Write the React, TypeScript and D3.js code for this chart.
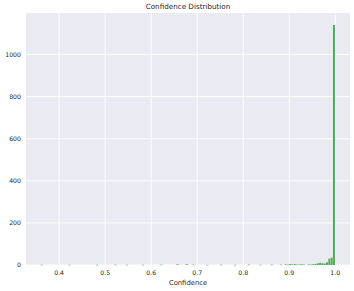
import React, { useEffect, useRef } from "react";
import * as d3 from "d3";

// histogram bins of width 0.005, only the non-empty ones
const binStarts: number[] = [
  0.36, 0.42, 0.48, 0.52, 0.545, 0.58, 0.62, 0.655, 0.675, 0.69, 0.72, 0.75,
  0.78, 0.81, 0.835, 0.86, 0.88, 0.89, 0.895, 0.9, 0.905, 0.91, 0.915, 0.92,
  0.925, 0.93, 0.94, 0.945, 0.95, 0.955, 0.96, 0.965, 0.97, 0.975, 0.98,
  0.985, 0.99, 0.995,
];
const binCounts: number[] = [
  1, 1, 1, 2, 1, 1, 2, 4, 4, 2, 1, 2,
  1, 2, 1, 2, 2, 3, 2, 5, 3, 4, 2, 3,
  4, 2, 3, 2, 4, 5, 8, 10, 8, 7, 13, 30, 35, 1140,
];
const binWidth = 0.005;
const xTicks: number[] = [0.4, 0.5, 0.6, 0.7, 0.8, 0.9, 1.0];
const yTicks: number[] = [0, 200, 400, 600, 800, 1000];

const W = 354;
const H = 291;

const App: React.FC = () => {
  const svgRef = useRef<SVGSVGElement>(null);

  useEffect(() => {
    const margin = { top: 13, right: 4, bottom: 26, left: 26 };
    const width = W - margin.left - margin.right;
    const height = H - margin.top - margin.bottom;

    const svg = d3.select(svgRef.current);
    svg.selectAll("*").remove();

    const data = binStarts.map((s, i) => ({ x0: s, x1: s + binWidth, n: binCounts[i] }));

    const lo = 0.36;
    const hi = 1.0;
    const pad = (hi - lo) * 0.05;
    const x = d3.scaleLinear().domain([lo - pad, hi + pad]).range([0, width]);
    const ymax = d3.max(binCounts)! * 1.05;
    const y = d3.scaleLinear().domain([0, ymax]).range([height, 0]);

    const font = "DejaVu Sans, sans-serif";
    const txt = "#262626";

    svg.append("text")
      .attr("x", margin.left + width / 2)
      .attr("y", 9)
      .attr("text-anchor", "middle")
      .attr("font-family", font)
      .attr("font-size", 7.2)
      .attr("fill", txt)
      .text("Confidence Distribution");

    const g = svg.append("g").attr("transform", `translate(${margin.left},${margin.top})`);

    g.append("rect").attr("width", width).attr("height", height).attr("fill", "#eaeaf2");

    // grid
    g.selectAll("line.xg")
      .data(xTicks)
      .enter()
      .append("line")
      .attr("x1", (d) => x(d))
      .attr("x2", (d) => x(d))
      .attr("y1", 0)
      .attr("y2", height)
      .attr("stroke", "#fff")
      .attr("stroke-width", 0.9);

    g.selectAll("line.yg")
      .data(yTicks)
      .enter()
      .append("line")
      .attr("x1", 0)
      .attr("x2", width)
      .attr("y1", (d) => y(d))
      .attr("y2", (d) => y(d))
      .attr("stroke", "#fff")
      .attr("stroke-width", 0.9);

    // bars
    g.selectAll("rect.bar")
      .data(data)
      .enter()
      .append("rect")
      .attr("x", (d) => x(d.x0))
      .attr("width", (d) => Math.max(0.5, x(d.x1) - x(d.x0) - 0.3))
      .attr("y", (d) => y(d.n))
      .attr("height", (d) => Math.max(0.6, height - y(d.n)))
      .attr("fill", "#4fae5c");

    // tick labels
    g.selectAll("text.xt")
      .data(xTicks)
      .enter()
      .append("text")
      .attr("x", (d) => x(d))
      .attr("y", height + 10)
      .attr("text-anchor", "middle")
      .attr("font-family", font)
      .attr("font-size", 6.2)
      .attr("fill", txt)
      .text((d) => d3.format(".1f")(d));

    g.selectAll("text.yt")
      .data(yTicks)
      .enter()
      .append("text")
      .attr("x", -5)
      .attr("y", (d) => y(d) + 2.2)
      .attr("text-anchor", "end")
      .attr("font-family", font)
      .attr("font-size", 6.2)
      .attr("fill", txt)
      .text((d) => String(d));

    g.append("text")
      .attr("x", width / 2)
      .attr("y", height + 20)
      .attr("text-anchor", "middle")
      .attr("font-family", font)
      .attr("font-size", 6.8)
      .attr("fill", txt)
      .text("Confidence");
  }, []);

  return (
    <div style={{ position: "absolute", left: 0, top: 0 }}>
      <svg ref={svgRef} width={W} height={H} style={{ display: "block", background: "#fff" }}></svg>
    </div>
  );
};

export default App;
